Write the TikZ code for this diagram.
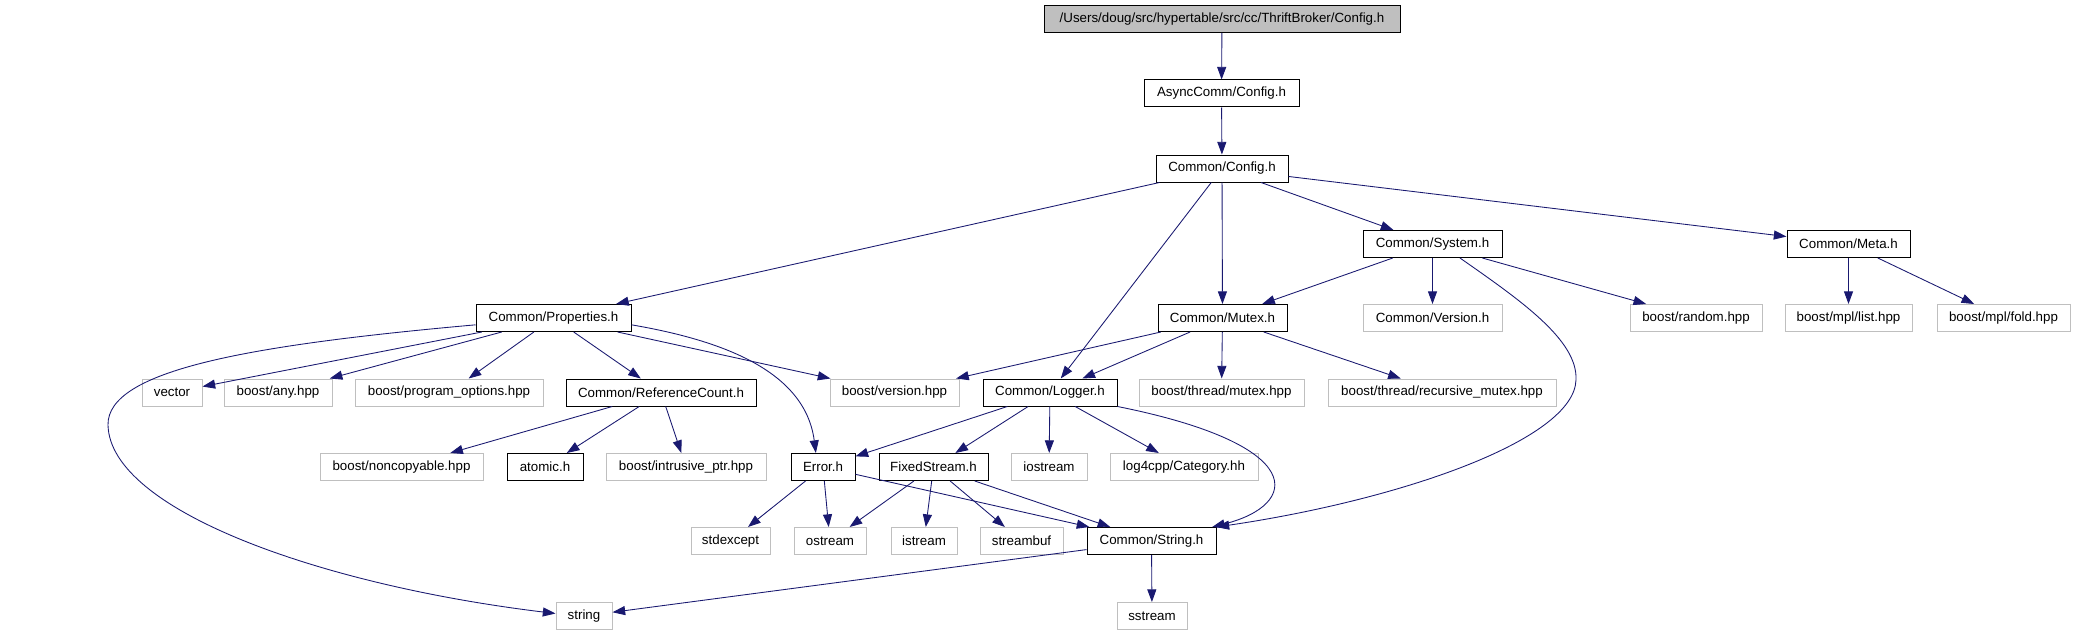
\documentclass[tikz,border=0pt]{standalone}
\usepackage{fontspec}
\setmainfont{Liberation Sans}
\usetikzlibrary{arrows.meta}
\definecolor{edgeblue}{HTML}{191970}
\definecolor{extgray}{HTML}{BFBFBF}

\begin{document}
\begin{tikzpicture}[x=0.75pt,y=-0.75pt,>={Triangle[length=9.5pt,width=6.8pt]},
    hfile/.style={draw=black,line width=0.75pt,minimum height=20.25pt,inner sep=0pt,
      font=\fontsize{10}{12}\selectfont,minimum width=#1*0.75pt},
    xfile/.style={hfile=#1,draw=extgray},
    dep/.style={->,color=edgeblue,line width=0.65pt}]
    \useasboundingbox (0,0) rectangle (2075,635);
    \node[hfile=356,fill=extgray] (top) at (1222,19) {/Users/doug/src/hypertable/src/cc/ThriftBroker/Config.h};
    \node[hfile=155] (async) at (1221.5,93.5) {AsyncComm/Config.h};
    \node[hfile=132] (config) at (1222,168.5) {Common/Config.h};
    \node[hfile=139] (system) at (1432.5,244) {Common/System.h};
    \node[hfile=123] (meta) at (1848.5,244) {Common/Meta.h};
    \node[hfile=155] (properties) at (553.5,318) {Common/Properties.h};
    \node[hfile=129] (mutex) at (1222.5,318) {Common/Mutex.h};
    \node[xfile=139] (cversion) at (1432.5,318) {Common/Version.h};
    \node[xfile=132] (random) at (1696,318) {boost/random.hpp};
    \node[xfile=127] (mpllist) at (1848.5,318) {boost/mpl/list.hpp};
    \node[xfile=133] (mplfold) at (2003.5,318) {boost/mpl/fold.hpp};
    \node[xfile=60] (vector) at (172,392.5) {vector};
    \node[xfile=108] (any) at (278,392.5) {boost/any.hpp};
    \node[xfile=188] (progopt) at (449,392.5) {boost/program\_options.hpp};
    \node[hfile=190] (refcount) at (661,392.5) {Common/ReferenceCount.h};
    \node[xfile=129] (bversion) at (894.5,392.5) {boost/version.hpp};
    \node[hfile=134] (logger) at (1050,392.5) {Common/Logger.h};
    \node[xfile=165] (thrmutex) at (1221.5,392.5) {boost/thread/mutex.hpp};
    \node[xfile=228] (recmutex) at (1442,392.5) {boost/thread/recursive\_mutex.hpp};
    \node[xfile=163] (noncopy) at (401.5,467) {boost/noncopyable.hpp};
    \node[hfile=76] (atomic) at (545,467) {atomic.h};
    \node[xfile=160] (intrusive) at (686,467) {boost/intrusive\_ptr.hpp};
    \node[hfile=64] (error) at (823,467) {Error.h};
    \node[hfile=109] (fixed) at (933.5,467) {FixedStream.h};
    \node[xfile=76] (iostream) at (1049,467) {iostream};
    \node[xfile=148] (log4cpp) at (1184,467) {log4cpp/Category.hh};
    \node[xfile=79] (stdexcept) at (730.5,541) {stdexcept};
    \node[xfile=72] (ostream) at (830,541) {ostream};
    \node[xfile=66] (istream) at (924,541) {istream};
    \node[xfile=83] (streambuf) at (1021.5,541) {streambuf};
    \node[hfile=129] (cstring) at (1151.5,541) {Common/String.h};
    \node[xfile=56] (string) at (584,616) {string};
    \node[xfile=70] (sstream) at (1152,616) {sstream};

    \draw[dep] (top) -- (async);
    \draw[dep] (async) -- (config);
    \draw[dep] (config) -- (properties);
    \draw[dep] (config) -- (logger);
    \draw[dep] (config) -- (mutex);
    \draw[dep] (config) -- (system);
    \draw[dep] (config) -- (meta);
    \draw[dep] (system) -- (mutex);
    \draw[dep] (system) -- (cversion);
    \draw[dep] (system) -- (random);
    \draw[dep] (system.-27) .. controls (1520,300) and (1578,340) .. (1576,380)
        .. controls (1574,440) and (1400,500) .. (cstring.north east);
    \draw[dep] (meta) -- (mpllist);
    \draw[dep] (meta) -- (mplfold);
    \draw[dep] (properties.185) .. controls (250,345) and (107,370) .. (108,425)
        .. controls (110,510) and (320,585) .. (string.175);
    \draw[dep] (properties) -- (vector);
    \draw[dep] (properties) -- (any);
    \draw[dep] (properties) -- (progopt);
    \draw[dep] (properties) -- (refcount);
    \draw[dep] (properties) -- (bversion);
    \draw[dep] (properties.-5) .. controls (720,340) and (805,370) .. (error.117);
    \draw[dep] (refcount) -- (noncopy);
    \draw[dep] (refcount) -- (atomic);
    \draw[dep] (refcount) -- (intrusive);
    \draw[dep] (mutex) -- (bversion);
    \draw[dep] (mutex) -- (logger);
    \draw[dep] (mutex) -- (thrmutex);
    \draw[dep] (mutex) -- (recmutex);
    \draw[dep] (logger) -- (error);
    \draw[dep] (logger) -- (fixed);
    \draw[dep] (logger) -- (iostream);
    \draw[dep] (logger) -- (log4cpp);
    \draw[dep] (logger.south east) .. controls (1310,445) and (1300,505) .. (cstring.13);
    \draw[dep] (error) -- (stdexcept);
    \draw[dep] (error) -- (ostream);
    \draw[dep] (error) -- (cstring);
    \draw[dep] (fixed) -- (ostream);
    \draw[dep] (fixed) -- (istream);
    \draw[dep] (fixed) -- (streambuf);
    \draw[dep] (fixed) -- (cstring);
    \draw[dep] (cstring) -- (string);
    \draw[dep] (cstring) -- (sstream);
\end{tikzpicture}
\end{document}
